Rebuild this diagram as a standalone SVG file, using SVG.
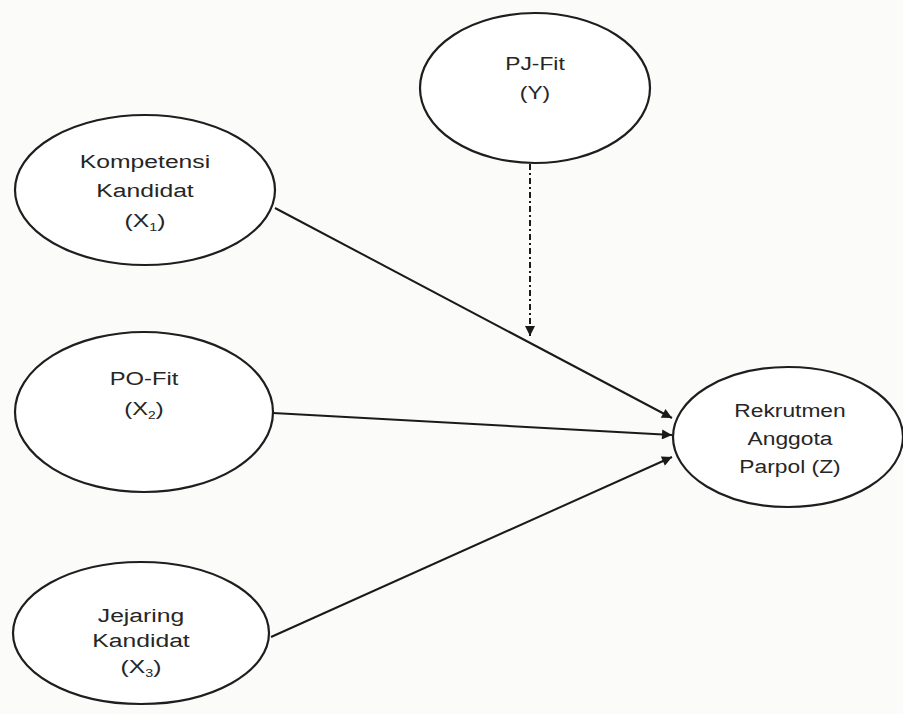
<svg xmlns="http://www.w3.org/2000/svg" width="903" height="714" viewBox="0 0 903 714">
  <defs>
    <marker id="arrowBig" viewBox="0 0 10 10" refX="10" refY="5" markerWidth="14" markerHeight="10" markerUnits="userSpaceOnUse" orient="auto">
      <path d="M0,0 L10,5 L0,10 z" fill="#1a1a1a"/>
    </marker>
  </defs>
  <style>
    .node ellipse { fill: #ffffff; stroke: #1e1e1e; stroke-width: 2.2; }
    .node text { font-family: "Liberation Sans", Arial, sans-serif; font-size: 19px; fill: #262626; text-anchor: middle; }
    .sub { font-size: 11px; }
    .edge { stroke: #1a1a1a; stroke-width: 2; fill: none; marker-end: url(#arrowBig); }
    .dashed { stroke-dasharray: 6 3 2 3; }
  </style>
  <rect width="903" height="714" fill="#fbfbfa"/>

  <g id="connectors">
    <line class="edge" x1="275" y1="208" x2="672" y2="418"/>
    <line class="edge" x1="273" y1="413" x2="672" y2="435"/>
    <line class="edge" x1="271" y1="637" x2="672" y2="457"/>
    <line class="edge dashed" x1="530" y1="164" x2="530" y2="336"/>
  </g>

  <g id="kompetensi" class="node">
    <ellipse cx="145" cy="190" rx="130" ry="75"/>
    <g transform="translate(145,0) scale(1.3,1)">
      <text x="0" y="168">Kompetensi</text>
      <text x="0" y="197">Kandidat</text>
      <text x="0" y="227">(X<tspan class="sub" dy="4">1</tspan><tspan dy="-4">)</tspan></text>
    </g>
  </g>

  <g id="pjfit" class="node">
    <ellipse cx="535" cy="88" rx="115" ry="75"/>
    <g transform="translate(535,0) scale(1.2,1)">
      <text x="0" y="70">PJ-Fit</text>
      <text x="0" y="99">(Y)</text>
    </g>
  </g>

  <g id="pofit" class="node">
    <ellipse cx="144" cy="412" rx="129" ry="80"/>
    <g transform="translate(144,0) scale(1.25,1)">
      <text x="0" y="385">PO-Fit</text>
      <text x="0" y="415">(X<tspan class="sub" dy="4">2</tspan><tspan dy="-4">)</tspan></text>
    </g>
  </g>

  <g id="jejaring" class="node">
    <ellipse cx="141" cy="633" rx="128" ry="71"/>
    <g transform="translate(141,0) scale(1.3,1)">
      <text x="0" y="622">Jejaring</text>
      <text x="0" y="647">Kandidat</text>
      <text x="0" y="673">(X<tspan class="sub" dy="4">3</tspan><tspan dy="-4">)</tspan></text>
    </g>
  </g>

  <g id="rekrutmen" class="node">
    <ellipse cx="788" cy="437" rx="115" ry="70"/>
    <g transform="translate(790,0) scale(1.2,1)">
      <text x="0" y="417">Rekrutmen</text>
      <text x="0" y="445">Anggota</text>
      <text x="0" y="473">Parpol (Z)</text>
    </g>
  </g>
</svg>
